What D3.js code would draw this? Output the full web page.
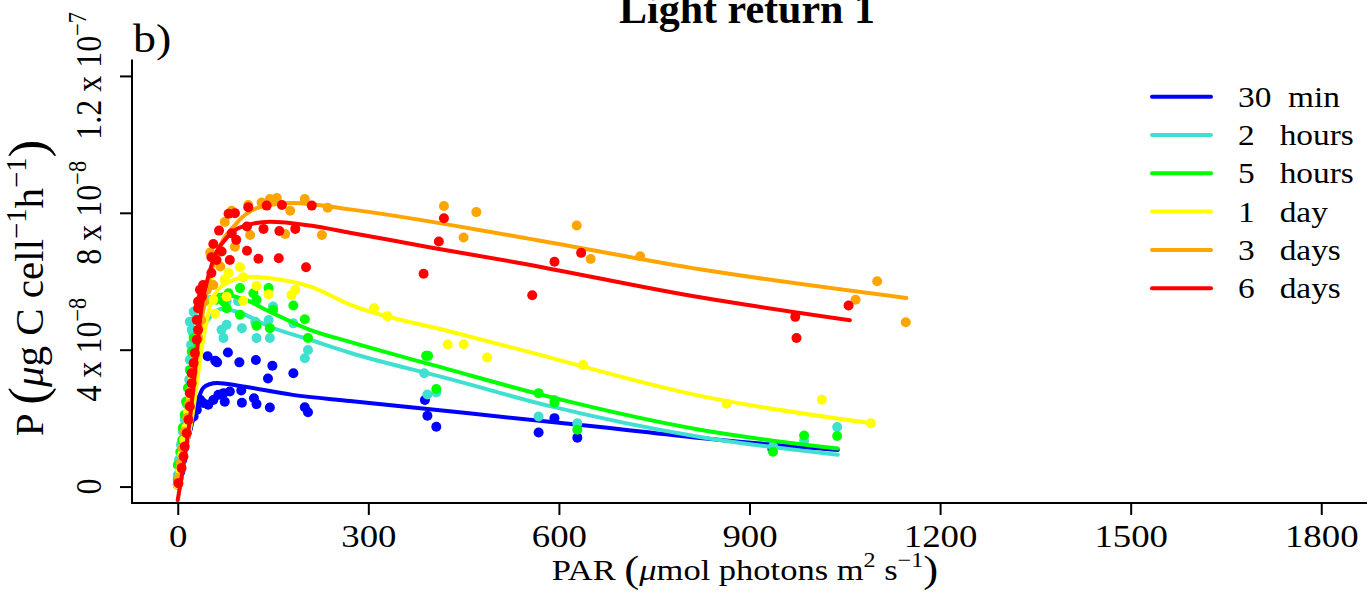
<!DOCTYPE html>
<html>
<head>
<meta charset="utf-8">
<script src="https://cdn.jsdelivr.net/npm/d3@7"></script>
<style>
  body { margin: 0; background: #fff; }
  text { font-family: "Liberation Serif", "DejaVu Serif", serif; fill: #000; }
</style>
</head>
<body>
<svg id="chart" width="1370" height="602"></svg>
<script>
// ---- data (P in units of 1e-8 ug C cell-1 h-1, PAR in umol photons m-2 s-1) ----
const seriesLabels = ["30  min", "2   hours", "5   hours", "1   day", "3   days", "6   days"];
const seriesColors = ["#0000ff", "#40e0d0", "#00ff00", "#ffff00", "#ffa500", "#ff0000"];

const xTicks = [0, 300, 600, 900, 1200, 1500, 1800];
const yTicks = [0, 4, 8, 12];
const yTickMantissa = ["0", "4 x 10", "8 x 10", "1.2 x 10"];
const yTickExponent = ["", "\u22128", "\u22128", "\u22127"];

// measured points [PAR, P]
const pts30min = [[0,0.05],[4,0.43],[7,0.78],[10,1.13],[13,1.48],[16,1.72],[19,1.95],[25,2.05],[30,2.24],[35,2.54],[40,2.44],[48,2.39],[56,2.53],[64,2.68],[72,2.73],[74,2.48],[82,2.78],[100,2.81],[101,2.45],[120,2.58],[124,2.41],[145,2.31],[200,2.32],[205,2.17],[47,3.81],[59,3.68],[62,3.63],[79,3.92],[97,3.63],[123,3.70],[142,3.16],[149,3.53],[182,3.31],[389,2.53],[393,2.07],[407,1.75],[568,1.58],[593,2.00],[629,1.43],[936,1.10]];
const pts2h = [[0,0.34],[2,0.78],[5,1.22],[8,1.60],[11,1.95],[15,2.39],[18,3.12],[19,3.71],[21,4.14],[24,4.49],[27,4.87],[19,4.82],[22,4.58],[25,5.11],[51,5.45],[69,4.58],[72,4.34],[77,4.73],[77,5.41],[95,5.42],[101,4.63],[122,4.82],[124,4.34],[143,4.87],[145,4.34],[150,5.26],[182,4.77],[200,3.75],[205,3.99],[388,3.31],[393,2.69],[407,2.75],[568,2.05],[593,2.53],[629,1.85],[937,1.17],[986,1.34],[1038,1.74]];
const pts5h = [[0,0.20],[0,0.63],[4,1.01],[7,1.36],[8,1.72],[11,2.10],[13,2.48],[16,2.88],[19,3.41],[22,3.94],[25,4.34],[61,5.46],[72,5.41],[77,5.21],[80,5.65],[98,5.02],[98,5.80],[119,5.65],[124,5.46],[124,4.70],[143,5.80],[145,4.63],[150,5.16],[182,5.29],[200,4.89],[205,4.34],[391,3.82],[394,3.82],[407,2.85],[568,2.73],[593,2.45],[629,1.66],[937,1.02],[986,1.49],[1038,1.48]];
const pts1d = [[0,0.05],[4,0.49],[7,0.93],[10,1.36],[13,1.72],[16,2.18],[21,2.59],[24,3.12],[29,3.71],[34,4.23],[38,4.73],[43,5.74],[51,5.98],[56,5.46],[59,5.05],[74,6.04],[77,5.55],[80,6.24],[98,6.41],[103,6.12],[103,5.43],[124,5.86],[143,5.62],[179,5.60],[185,5.75],[309,5.21],[330,4.98],[425,4.15],[450,4.16],[487,3.77],[638,3.55],[864,2.42],[1014,2.54],[1091,1.85]];
const pts3d = [[2,0.25],[5,0.69],[8,1.13],[11,1.60],[15,2.01],[18,2.42],[21,2.83],[24,3.35],[27,3.85],[32,4.35],[37,4.87],[41,5.40],[46,5.75],[51,6.84],[56,5.89],[67,6.43],[74,7.73],[85,8.06],[90,7.01],[111,8.23],[114,7.35],[132,8.30],[145,8.40],[156,8.43],[169,7.38],[177,8.06],[200,8.40],[227,7.35],[236,8.15],[419,8.20],[450,7.28],[470,8.02],[628,7.63],[650,6.65],[728,6.73],[1067,5.46],[1101,6.00],[1146,4.80]];
const pts6d = [[1,0.10],[6,0.54],[9,0.88],[11,1.17],[14,1.56],[17,1.95],[19,2.34],[19,2.73],[22,3.02],[22,3.31],[25,3.61],[27,3.90],[30,4.29],[32,4.58],[30,4.87],[32,5.21],[38,5.55],[32,5.41],[35,5.75],[40,5.89],[53,6.24],[53,6.70],[56,7.09],[61,6.62],[65,7.48],[69,6.87],[80,7.97],[82,6.62],[85,7.40],[90,7.99],[92,7.21],[109,7.60],[109,6.89],[111,8.16],[127,6.66],[135,7.53],[140,8.21],[159,6.67],[160,7.47],[164,8.23],[185,7.53],[202,6.41],[211,8.21],[387,6.22],[411,7.16],[419,7.84],[558,5.59],[593,6.57],[635,6.83],[972,4.96],[974,4.34],[1056,5.29]];

// fitted curves [PAR, P]
const fit30min = [[0,0],[16,1.37],[24,1.95],[32,2.53],[40,2.88],[50,2.99],[62,3.03],[98,2.94],[181,2.68],[271,2.50],[665,1.74],[822,1.42],[1039,1.07]];
const fit2h = [[0,0],[16,1.95],[32,4.29],[51,4.95],[70,5.20],[98,5.08],[145,4.67],[208,4.29],[271,3.91],[429,3.14],[586,2.35],[822,1.45],[1039,0.93]];
const fit5h = [[0,0],[15,1.95],[29,4.29],[43,5.31],[70,5.61],[106,5.46],[145,5.11],[208,4.58],[271,4.23],[429,3.41],[586,2.62],[822,1.66],[1039,1.11]];
const fit1d = [[0,0],[22,1.95],[40,4.29],[54,5.46],[78,5.96],[114,6.13],[145,6.09],[208,5.85],[271,5.32],[429,4.53],[533,4.03],[822,2.65],[1092,1.85]];
const fit3d = [[0,0],[19,1.95],[30,3.90],[43,5.45],[62,6.82],[90,7.64],[130,8.17],[181,8.29],[271,8.10],[533,7.31],[822,6.35],[1147,5.51]];
const fit6d = [[0,-0.39],[19,1.95],[30,3.90],[35,4.87],[51,6.33],[78,7.29],[109,7.64],[145,7.74],[208,7.63],[271,7.42],[400,6.98],[533,6.55],[822,5.53],[1058,4.86]];

const seriesPts = [pts30min, pts2h, pts5h, pts1d, pts3d, pts6d];
const seriesFit = [fit30min, fit2h, fit5h, fit1d, fit3d, fit6d];

// ---- layout ----
const plotLeft = 132, plotRight = 1367, plotTop = 59.5, plotBottom = 503;
const SX = 1.15;   // tick/legend glyphs come out a bit wider than tall in the picture
const tickFont = 32;

const svg = d3.select("#chart");

const x = d3.scaleLinear().domain([-72, 1872]).range([plotLeft, plotRight]);
const y = d3.scaleLinear().domain([-0.48, 12.48]).range([plotBottom, plotTop]);

svg.append("clipPath").attr("id", "plotclip")
  .append("rect")
  .attr("x", plotLeft).attr("y", plotTop)
  .attr("width", plotRight - plotLeft).attr("height", plotBottom - plotTop);

// helper: write text with superscripts / big parens
function mathText(sel, parts, size) {
  let shift = 0;
  parts.forEach(p => {
    const ts = sel.append("tspan").text(p.t);
    let target = 0;
    if (p.sup) { ts.attr("font-size", size * 0.7); target = -0.42 * size; }
    else if (p.big) { ts.attr("font-size", size * 1.3); target = 0.06 * size; }
    if (p.it) ts.attr("font-style", "italic");
    ts.attr("dy", target - shift);
    shift = target;
  });
}

// axes (bty = "l")
svg.append("g")
  .attr("transform", `translate(0,${plotBottom})`)
  .call(d3.axisBottom(x).tickValues(xTicks).tickSize(12).tickPadding(9).tickFormat(d3.format("d")))
  .call(g => g.select(".domain").remove())
  .call(g => g.selectAll("line").attr("stroke-width", 2))
  .call(g => g.selectAll("text")
    .attr("font-size", tickFont)
    .attr("font-family", "Liberation Serif, serif")
    .attr("transform", `scale(${SX},1)`));

svg.append("g")
  .attr("transform", `translate(${plotLeft},0)`)
  .call(d3.axisLeft(y).tickValues(yTicks).tickSize(12).tickFormat(""))
  .call(g => g.select(".domain").remove())
  .call(g => g.selectAll("line").attr("stroke-width", 2));

yTicks.forEach((v, i) => {
  const t = svg.append("text")
    .attr("transform", `translate(101,${y(v)}) rotate(-90) scale(1,${SX})`)
    .attr("text-anchor", "middle")
    .attr("font-size", tickFont);
  const parts = [{t: yTickMantissa[i]}];
  if (yTickExponent[i]) parts.push({t: yTickExponent[i], sup: true});
  mathText(t, parts, tickFont);
});

svg.append("path")
  .attr("d", `M${plotLeft},${plotTop}V${plotBottom}H${plotRight}`)
  .attr("fill", "none").attr("stroke", "#000").attr("stroke-width", 2);

// series: points then fitted line
const line = d3.line().x(d => x(d[0])).y(d => y(d[1])).curve(d3.curveMonotoneX);
const plot = svg.append("g").attr("clip-path", "url(#plotclip)");

seriesPts.forEach((pts, i) => {
  plot.append("g").selectAll("circle")
    .data(pts)
    .enter().append("circle")
    .attr("cx", d => x(d[0]))
    .attr("cy", d => y(d[1]))
    .attr("r", 5)
    .attr("fill", seriesColors[i]);

  plot.append("path")
    .datum(seriesFit[i])
    .attr("d", line)
    .attr("fill", "none")
    .attr("stroke", seriesColors[i])
    .attr("stroke-width", 4)
    .attr("stroke-linecap", "round");
});

// axis titles
const xl = svg.append("text")
  .attr("transform", `translate(745,580) scale(${SX},1)`)
  .attr("text-anchor", "middle")
  .attr("font-size", 30);
mathText(xl, [{t: "PAR "}, {t: "(", big: true}, {t: "\u03bc", it: true}, {t: "mol photons m"},
  {t: "2", sup: true}, {t: " s"}, {t: "\u22121", sup: true}, {t: ")", big: true}], 30);

const yl = svg.append("text")
  .attr("transform", "translate(43,288) rotate(-90)")
  .attr("text-anchor", "middle")
  .attr("font-size", 41);
mathText(yl, [{t: "P "}, {t: "(", big: true}, {t: "\u03bc", it: true}, {t: "g C cell"},
  {t: "\u22121", sup: true}, {t: "h"}, {t: "\u22121", sup: true}, {t: ")", big: true}], 41);

// title (cut by the top edge, as in the source) and panel tag
svg.append("text")
  .attr("x", 747).attr("y", 23)
  .attr("text-anchor", "middle")
  .attr("font-size", 42)
  .attr("font-weight", "bold")
  .text("Light return 1");

svg.append("text")
  .attr("transform", `translate(133,52) scale(${SX},1)`)
  .attr("font-size", 40)
  .text("b)");

// legend
const legend = svg.append("g");
seriesLabels.forEach((lab, i) => {
  const ly = 96.7 + i * 38.3;
  legend.append("line")
    .attr("x1", 1152).attr("x2", 1211)
    .attr("y1", ly).attr("y2", ly)
    .attr("stroke", seriesColors[i])
    .attr("stroke-width", 4)
    .attr("stroke-linecap", "round");
  legend.append("text")
    .attr("transform", `translate(1238,${ly + 10}) scale(${SX},1)`)
    .attr("font-size", 29)
    .style("white-space", "pre")
    .text(lab);
});
</script>
</body>
</html>
